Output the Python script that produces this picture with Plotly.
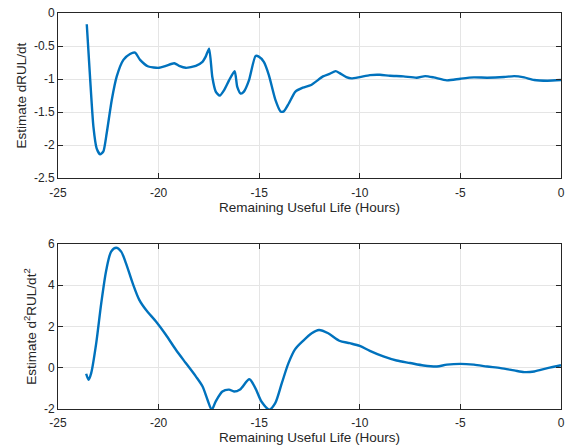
import plotly.graph_objects as go
from plotly.subplots import make_subplots

# First derivative estimate
t1 = [-23.57, -23.41, -23.24, -23.08, -22.91, -22.75, -22.58, -22.33, -22.08, -21.75, -21.42, -21.17,
      -20.92, -20.51, -19.98, -19.64, -19.22, -18.98, -18.65, -18.15, -17.82, -17.66, -17.49, -17.33,
      -17.16, -16.96, -16.75, -16.5, -16.22, -16.09, -15.92, -15.76, -15.51, -15.18, -15.02, -14.77,
      -14.52, -14.19, -13.94, -13.78, -13.53, -13.2, -12.83, -12.42, -11.83, -11.5, -11.2, -11.0,
      -10.67, -10.42, -10.0, -9.5, -9.0, -8.5, -7.83, -7.17, -6.75, -6.33, -5.67, -5.0, -4.33, -3.67,
      -2.83, -2.33, -1.83, -1.33, -0.67, 0.0]
d1 = [-0.17, -0.96, -1.72, -2.05, -2.14, -2.10, -1.82, -1.32, -0.96, -0.71, -0.62, -0.6,
      -0.71, -0.81, -0.83, -0.8, -0.76, -0.8, -0.83, -0.8, -0.74, -0.66, -0.54, -0.97,
      -1.19, -1.25, -1.17, -1.02, -0.88, -1.12, -1.22, -1.19, -1.02, -0.65, -0.66, -0.74,
      -0.94, -1.32, -1.49, -1.49, -1.37, -1.19, -1.13, -1.09, -0.96, -0.92, -0.88, -0.91,
      -0.97, -0.99, -0.97, -0.94, -0.935, -0.95, -0.96, -0.98, -0.955, -0.975, -1.02, -0.995, -0.975, -0.98,
      -0.97, -0.955, -0.975, -1.015, -1.025, -1.015]

# Second derivative estimate
t2 = [-23.6, -23.48, -23.35, -23.1, -22.85, -22.6, -22.36, -22.11, -21.86, -21.62, -21.29, -20.96,
      -20.63, -20.13, -19.64, -19.14, -18.65, -18.15, -17.82, -17.57, -17.36, -17.16, -16.83, -16.5,
      -16.25, -15.95, -15.49, -15.21, -14.88, -14.5, -14.21, -13.88, -13.55, -13.22, -12.81, -12.39,
      -12.03, -11.57, -11.02, -10.5, -10.0, -9.5, -8.83, -8.17, -7.5, -6.83, -6.17,
      -5.67, -5.0, -4.33, -3.67, -3.0, -2.33, -1.83, -1.33, -0.67, 0.0]
d2 = [-0.29, -0.58, -0.26, 1.19, 3.13, 4.74, 5.63, 5.82, 5.63, 5.06, 4.1, 3.29,
      2.81, 2.24, 1.6, 0.87, 0.23, -0.42, -0.9, -1.55, -2.03, -1.63, -1.15, -1.06,
      -1.15, -1.05, -0.56, -0.95, -1.65, -2.03, -1.73, -0.76, 0.21, 0.89, 1.31, 1.67,
      1.83, 1.67, 1.31, 1.19, 1.06, 0.82, 0.55, 0.35, 0.23, 0.11, 0.06,
      0.15, 0.19, 0.15, 0.06, -0.02, -0.13, -0.21, -0.18, -0.02, 0.12]

xticks = [-25, -20, -15, -10, -5, 0]
yticks1 = [0, -0.5, -1, -1.5, -2, -2.5]
yticks2 = [6, 4, 2, 0, -2]

def lab(v):
    return "%g" % v

fig = make_subplots(rows=2, cols=1)
fig.add_trace(go.Scatter(x=t1, y=d1, mode="lines", line=dict(color="#0072BD", width=2.4, shape="spline", smoothing=0.6)), row=1, col=1)
fig.add_trace(go.Scatter(x=t2, y=d2, mode="lines", line=dict(color="#0072BD", width=2.4, shape="spline", smoothing=0.8)), row=2, col=1)

font = "Liberation Sans, Arial, Helvetica, sans-serif"
axcommon = dict(showline=True, linecolor="#262626", linewidth=1, mirror="ticks",
                ticks="inside", ticklen=5, tickcolor="#262626", showgrid=True,
                gridcolor="#e5e5e5", gridwidth=1, zeroline=False, automargin=False,
                ticklabeloverflow="allow",
                tickfont=dict(family=font, size=12, color="#262626"))
xcommon = dict(axcommon, ticklabelstandoff=3)
tfont = dict(family=font, size=13.5, color="#262626")

fig.update_layout(
    width=566, height=447, showlegend=False, template="none",
    paper_bgcolor="white", plot_bgcolor="white",
    margin=dict(l=58, r=5, t=13, b=38, pad=0),
    font=dict(family=font, color="#262626"),
    xaxis=dict(domain=[0, 1], range=[-25, 0], tickvals=xticks, ticktext=[lab(v) for v in xticks],
               title=dict(text="Remaining Useful Life (Hours)", font=tfont, standoff=2), **xcommon),
    yaxis=dict(domain=[0.583, 1.0], range=[-2.5, 0], tickvals=yticks1, ticktext=[lab(v) for v in yticks1],
               title=dict(text="Estimate dRUL/dt", font=tfont, standoff=4), **axcommon),
    xaxis2=dict(domain=[0, 1], range=[-25, 0], tickvals=xticks, ticktext=[lab(v) for v in xticks],
                title=dict(text="Remaining Useful Life (Hours)", font=tfont, standoff=2), **xcommon),
    yaxis2=dict(domain=[0, 0.4167], range=[-2, 6], tickvals=yticks2, ticktext=[lab(v) for v in yticks2],
                title=dict(text="Estimate d<sup>2</sup>RUL/dt<sup>2</sup>", font=tfont, standoff=4), **axcommon),
)

fig.write_html("out.html", config={"displayModeBar": False},
               post_script="document.body.style.margin='0';document.body.style.overflow='hidden';")
